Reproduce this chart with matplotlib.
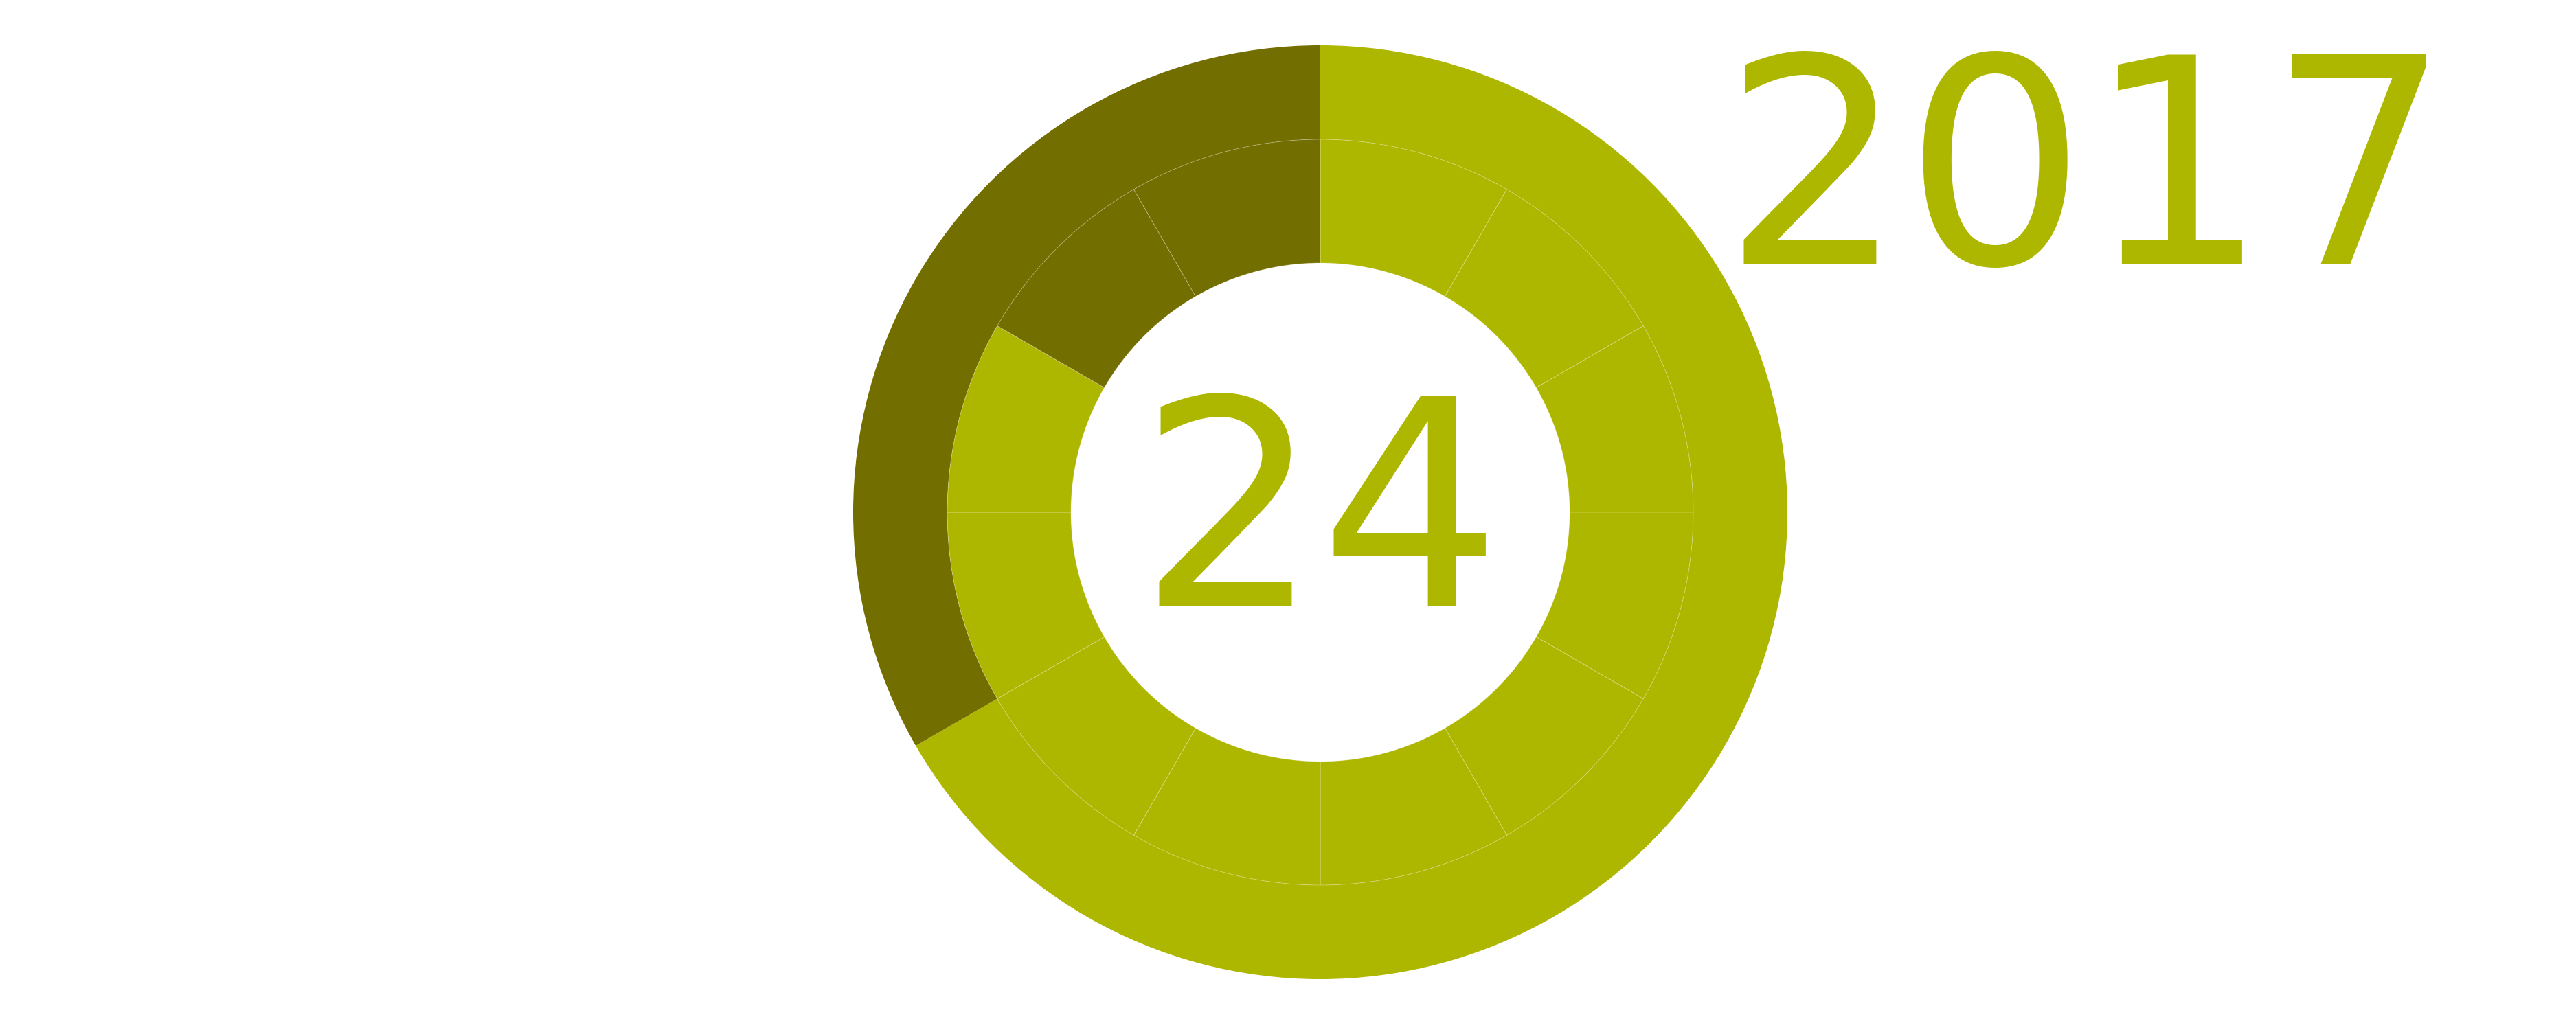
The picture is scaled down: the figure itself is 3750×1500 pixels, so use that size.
import matplotlib
matplotlib.use("Agg")
import matplotlib.pyplot as plt

# ---- data ----
outer_labels = ["done", "remaining"]
outer_values = [16, 8]
inner_labels = ["1", "2", "3", "4", "5", "6", "7", "8", "9", "10", "11", "12"]
inner_values = [1, 1, 1, 1, 1, 1, 1, 1, 1, 1, 1, 1]
center_label = "24"
year_label = "2017"

LIGHT = "#AEB700"
DARK = "#736E00"
outer_colors = [LIGHT, DARK]
inner_colors = [LIGHT] * 10 + [DARK] * 2

fig = plt.figure(figsize=(37.5, 15), dpi=100)
fig.patch.set_facecolor("white")

# axes placed so the donut centre is at (1922, 746) px from top-left, radius 680 px
ax = fig.add_axes([1174 / 3750, 6 / 1500, 1496 / 3750, 1496 / 1500])

ax.pie(outer_values, colors=outer_colors, radius=1.0, startangle=90,
       counterclock=False,
       wedgeprops=dict(width=0.2015, edgecolor="none", linewidth=0))
ax.pie(inner_values, colors=inner_colors, radius=0.7985, startangle=90,
       counterclock=False,
       wedgeprops=dict(width=0.2647, edgecolor=(1, 1, 1, 0.28), linewidth=0.7))

ax.set_xlim(-1.1, 1.1)
ax.set_ylim(-1.1, 1.1)
ax.set_aspect("equal")
ax.axis("off")

ax.text(0, -0.2, center_label, ha="center", va="baseline",
        fontsize=300, color=LIGHT, family="DejaVu Sans")

fig.text(3038 / 3750, 1116 / 1500, year_label, ha="center", va="baseline",
         fontsize=300, color=LIGHT, family="DejaVu Sans")

fig.savefig("out.png", dpi=100, facecolor="white")
